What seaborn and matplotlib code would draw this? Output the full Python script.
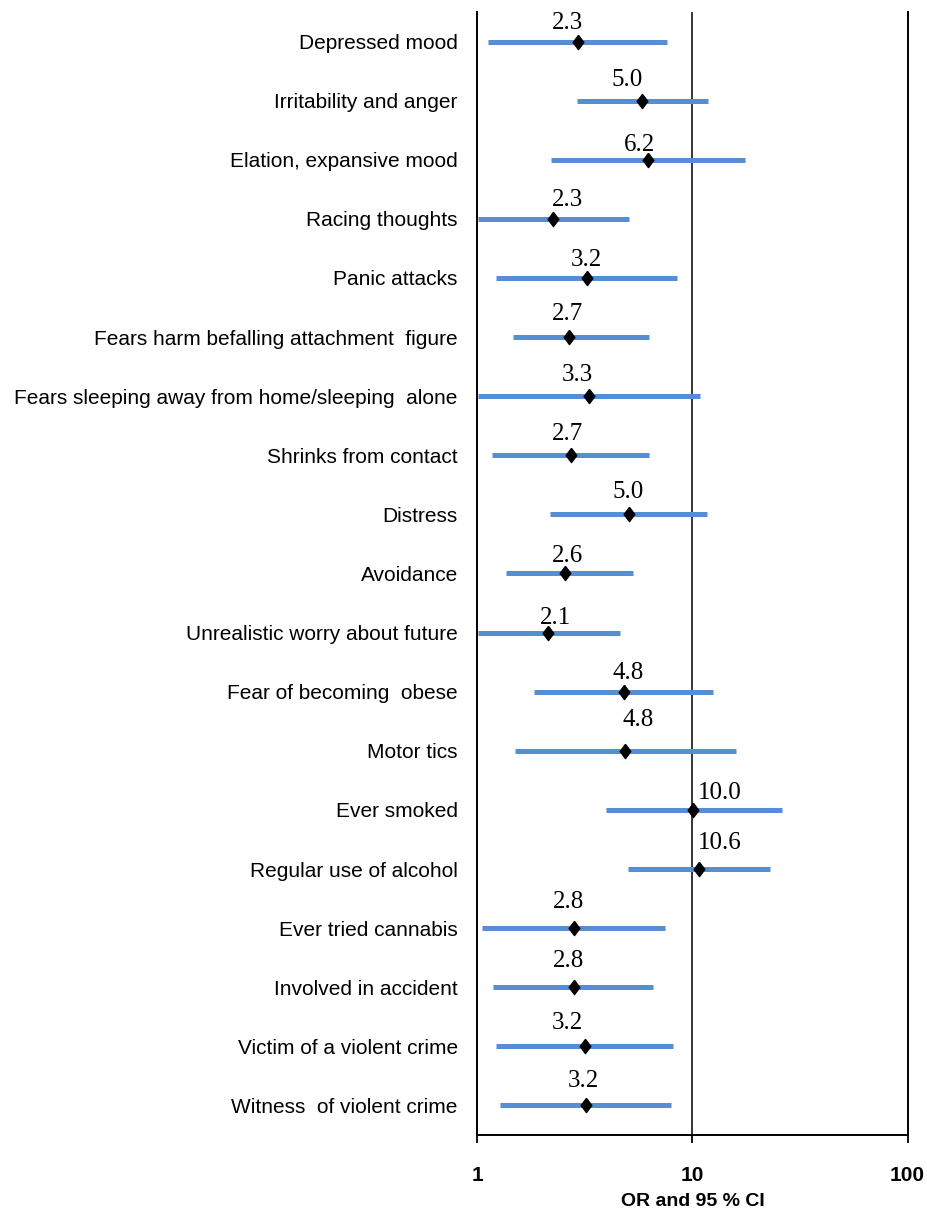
import numpy as np
import pandas as pd
import seaborn as sns
import matplotlib.pyplot as plt
from matplotlib.ticker import FixedLocator, NullLocator

# datos (OR e IC 95 %)
sintomas = ['Depressed mood', 'Irritability and anger', 'Elation, expansive mood',
            'Racing thoughts', 'Panic attacks', 'Fears harm befalling attachment  figure',
            'Fears sleeping away from home/sleeping  alone', 'Shrinks from contact',
            'Distress', 'Avoidance', 'Unrealistic worry about future',
            'Fear of becoming  obese', 'Motor tics', 'Ever smoked',
            'Regular use of alcohol', 'Ever tried cannabis', 'Involved in accident',
            'Victim of a violent crime', 'Witness  of violent crime']
odds = [2.93, 5.85, 6.23, 2.25, 3.22, 2.68, 3.32, 2.72, 5.06, 2.56,
        2.14, 4.80, 4.87, 10.1, 10.7, 2.82, 2.82, 3.16, 3.19]
ci_low = [1.12, 2.91, 2.20, 1.01, 1.22, 1.47, 1.01, 1.17, 2.18, 1.36,
          1.01, 1.84, 1.49, 3.95, 5.01, 1.05, 1.18, 1.22, 1.27]
ci_high = [7.64, 11.8, 17.5, 5.06, 8.48, 6.30, 10.8, 6.30, 11.7, 5.27,
           4.61, 12.4, 15.9, 26.0, 23.0, 7.48, 6.55, 8.15, 7.98]
etiquetas = ['2.3', '5.0', '6.2', '2.3', '3.2', '2.7', '3.3', '2.7', '5.0', '2.6',
             '2.1', '4.8', '4.8', '10.0', '10.6', '2.8', '2.8', '3.2', '3.2']

# desplazamiento de las etiquetas (pixeles) respecto al punto
dx_px = [-10, -15, -9, 14, 0, -2, -12, -3, -1, 2, 7, 4, 13, 26, 21, -6, -6, -17, -2]
dy_px = [19, 21, 15, 19, 18, 23, 21, 21, 22, 17, 15, 19, 31, 17, 26, 26, 26, 23, 24]

df = pd.DataFrame({'sintoma': sintomas, 'OR': odds, 'lo': ci_low, 'hi': ci_high})
df['pos'] = np.arange(len(df))

sns.set_theme(style='white')
plt.rcParams['font.family'] = ['Liberation Sans', 'DejaVu Sans']
plt.rcParams['text.color'] = 'black'
plt.rcParams['xtick.color'] = 'black'
plt.rcParams['ytick.color'] = 'black'
plt.rcParams['axes.labelcolor'] = 'black'

fig = plt.figure(figsize=(9.28, 12.14), dpi=100)
ax = fig.add_axes([0.5143, 0.0651, 0.4637, 0.9250])

azul = '#558ED5'
rombo = [(0, 1), (0.75, 0), (0, -1), (-0.75, 0), (0, 1)]
ax.hlines(df['pos'], df['lo'], df['hi'], color=azul, lw=3.6, zorder=2)
sns.scatterplot(data=df, x='OR', y='pos', marker=rombo, s=105, color='black',
                edgecolor='black', linewidth=1.0, zorder=3, ax=ax, legend=False)

for i, row in df.iterrows():
    ax.annotate(etiquetas[i], (row['OR'], row['pos']),
                xytext=(dx_px[i] * 0.72, dy_px[i] * 0.72), textcoords='offset points',
                ha='center', va='center', fontsize=18, family='Liberation Serif',
                color='black')

ax.set_xscale('log')
ax.set_xlim(1, 100)
ax.set_ylim(len(df) - 0.5, -0.5)
ax.xaxis.set_major_locator(FixedLocator([1, 10, 100]))
ax.xaxis.set_minor_locator(NullLocator())
ax.set_xticklabels(['1', '10', '100'], fontsize=15, fontweight='bold')
ax.set_yticks(df['pos'])
ax.set_yticklabels(df['sintoma'], fontsize=15)
ax.tick_params(axis='y', length=0, pad=14)
ax.tick_params(axis='x', direction='out', length=6, width=1.3, pad=16,
               color='black', bottom=True)

ax.axvline(10, color='black', lw=1.1, zorder=1)
for lado in ['left', 'right', 'bottom']:
    ax.spines[lado].set_color('black')
    ax.spines[lado].set_linewidth(1.4)
ax.spines['top'].set_visible(False)

ax.set_xlabel('OR and 95 % CI', fontsize=14, fontweight='bold')
ax.xaxis.set_label_coords(0.5, -0.0594)
ax.xaxis.label.set_va('center')
ax.set_ylabel('')

fig.savefig('out.png', dpi=100)
